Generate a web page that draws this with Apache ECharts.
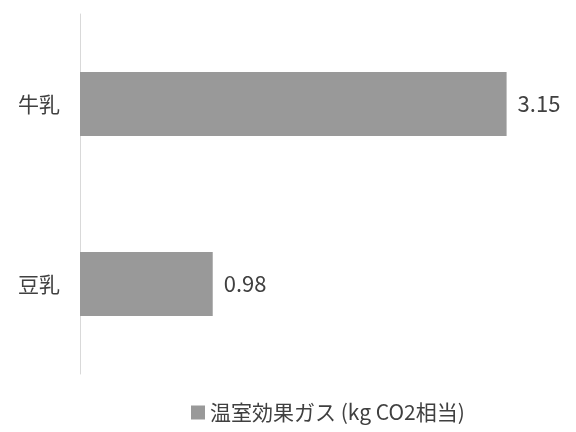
<!DOCTYPE html>
<html>
<head>
<meta charset="utf-8">
<script src="https://cdn.jsdelivr.net/npm/echarts@6/dist/echarts.min.js"></script>
<style>
  html, body { margin: 0; padding: 0; background: #fff; }
  #chart { width: 576px; height: 432px; }
</style>
</head>
<body>
<div id="chart"></div>
<script>
// Greenhouse gas emissions per product
const categories = ['牛乳', '豆乳'];
const seriesName = '温室効果ガス (kg CO2相当)';
const emissions = [3.15, 0.98];

const font = '"Noto Sans CJK JP", "Noto Sans", sans-serif';
const textColor = '#404040';

const chart = echarts.init(document.getElementById('chart'), null, { renderer: 'canvas' });
chart.setOption({
  animation: false,
  backgroundColor: '#ffffff',
  textStyle: { fontFamily: font },
  grid: { left: 80, top: 14, width: 474, height: 360, containLabel: false },
  xAxis: {
    type: 'value',
    min: 0,
    max: 3.5,
    show: false
  },
  yAxis: {
    type: 'category',
    data: categories,
    inverse: true,
    axisLine: { show: true, lineStyle: { color: '#d9d9d9', width: 1 } },
    axisTick: { show: false },
    axisLabel: { fontSize: 21, color: textColor, margin: 20, fontFamily: font },
    splitLine: { show: false }
  },
  legend: {
    left: 186,
    top: 397,
    icon: 'rect',
    itemWidth: 14,
    itemHeight: 14,
    itemGap: 10,
    textStyle: { fontSize: 21, color: textColor, fontFamily: font },
    data: [seriesName]
  },
  series: [{
    name: seriesName,
    type: 'bar',
    data: emissions,
    barWidth: 64,
    itemStyle: { color: '#999999' },
    label: {
      show: true,
      position: 'right',
      distance: 11,
      fontSize: 22,
      color: textColor,
      fontFamily: font,
      formatter: p => p.value.toFixed(2)
    }
  }]
});
</script>
</body>
</html>
